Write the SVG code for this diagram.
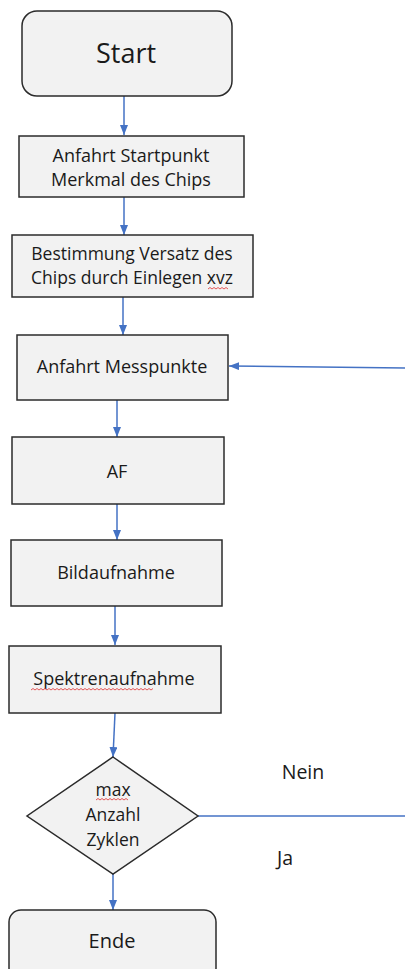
<svg xmlns="http://www.w3.org/2000/svg" width="405" height="969" viewBox="0 0 405 969">
<style>
.box{fill:#f2f2f2;stroke:#2b2b2b;stroke-width:1.5}
.t{font-family:"Open Sans","Liberation Sans",sans-serif;fill:#1a1a1a;text-anchor:middle}
.c{stroke:#4472c4;stroke-width:1.5;fill:none}
.sq{stroke:#e03030;stroke-width:0.8;fill:none}
</style>
<defs>
<marker id="ah" viewBox="0 0 10 8" refX="10" refY="4" markerWidth="10" markerHeight="8" markerUnits="userSpaceOnUse" orient="auto">
<path d="M0,0 L10,4 L0,8 Z" fill="#4472c4"/>
</marker>
</defs>
<rect width="405" height="969" fill="#ffffff"/>
<g id="connectors">
<line class="c" x1="124" y1="96" x2="124" y2="135" marker-end="url(#ah)"/>
<line class="c" x1="124" y1="197" x2="124" y2="235" marker-end="url(#ah)"/>
<line class="c" x1="123" y1="297" x2="123" y2="335" marker-end="url(#ah)"/>
<line class="c" x1="117" y1="400" x2="117" y2="437" marker-end="url(#ah)"/>
<line class="c" x1="117" y1="504" x2="117" y2="540" marker-end="url(#ah)"/>
<line class="c" x1="115" y1="606" x2="115" y2="645" marker-end="url(#ah)"/>
<line class="c" x1="115" y1="713" x2="113" y2="757" marker-end="url(#ah)"/>
<line class="c" x1="113" y1="874" x2="113" y2="910" marker-end="url(#ah)"/>
<line class="c" x1="198" y1="816" x2="405" y2="816"/>
<line class="c" x1="405" y1="368" x2="229" y2="366" marker-end="url(#ah)"/>
</g>
<g id="start">
<rect class="box" x="22" y="11" width="210" height="85" rx="15"/>
<text class="t" x="126" y="63" font-size="27">Start</text>
</g>
<g id="anfahrt-startpunkt">
<rect class="box" x="19" y="136" width="225" height="61"/>
<text class="t" x="131" y="162" font-size="18">Anfahrt Startpunkt</text>
<text class="t" x="131" y="186" font-size="18">Merkmal des Chips</text>
</g>
<g id="bestimmung">
<rect class="box" x="12" y="235" width="241" height="62"/>
<text class="t" x="132" y="260" font-size="17.5">Bestimmung Versatz des</text>
<text class="t" x="132" y="284" font-size="17.5">Chips durch Einlegen xvz</text>
<path class="sq" d="M208,289 l2,-1.5 l2,1.5 l2,-1.5 l2,1.5 l2,-1.5 l2,1.5 l2,-1.5 l2,1.5 l2,-1.5 l2,1.5"/>
</g>
<g id="anfahrt-messpunkte">
<rect class="box" x="17" y="335" width="211" height="65"/>
<text class="t" x="122" y="373" font-size="18">Anfahrt Messpunkte</text>
</g>
<g id="af">
<rect class="box" x="12" y="437" width="212" height="67"/>
<text class="t" x="117" y="478" font-size="18">AF</text>
</g>
<g id="bildaufnahme">
<rect class="box" x="11" y="540" width="211" height="66"/>
<text class="t" x="116" y="579" font-size="18">Bildaufnahme</text>
</g>
<g id="spektrenaufnahme">
<rect class="box" x="9" y="646" width="212" height="67"/>
<text class="t" x="114" y="685" font-size="18">Spektrenaufnahme</text>
<path class="sq" d="M31,690 l2,-1.5 l2,1.5 l2,-1.5 l2,1.5 l2,-1.5 l2,1.5 l2,-1.5 l2,1.5 l2,-1.5 l2,1.5 l2,-1.5 l2,1.5 l2,-1.5 l2,1.5 l2,-1.5 l2,1.5 l2,-1.5 l2,1.5 l2,-1.5 l2,1.5 l2,-1.5 l2,1.5 l2,-1.5 l2,1.5 l2,-1.5 l2,1.5 l2,-1.5 l2,1.5 l2,-1.5 l2,1.5 l2,-1.5 l2,1.5 l2,-1.5 l2,1.5 l2,-1.5 l2,1.5 l2,-1.5 l2,1.5 l2,-1.5 l2,1.5 l2,-1.5 l2,1.5 l2,-1.5 l2,1.5 l2,-1.5 l2,1.5 l2,-1.5 l2,1.5 l2,-1.5 l2,1.5 l2,-1.5 l2,1.5 l2,-1.5 l2,1.5 l2,-1.5 l2,1.5 l2,-1.5 l2,1.5 l2,-1.5 l2,1.5 l2,-1.5"/>
</g>
<g id="max-zyklen">
<polygon class="box" points="113,757 198,816 113,874 27,816"/>
<text class="t" x="113" y="796" font-size="17.5">max</text>
<path class="sq" d="M96,800 l2,-1.5 l2,1.5 l2,-1.5 l2,1.5 l2,-1.5 l2,1.5 l2,-1.5 l2,1.5 l2,-1.5 l2,1.5 l2,-1.5 l2,1.5 l2,-1.5 l2,1.5 l2,-1.5 l2,1.5"/>
<text class="t" x="113" y="821" font-size="17.5">Anzahl</text>
<text class="t" x="113" y="846" font-size="17.5">Zyklen</text>
</g>
<g id="labels">
<text class="t" x="303" y="779" font-size="19.5">Nein</text>
<text class="t" x="285" y="865" font-size="19.5">Ja</text>
</g>
<g id="ende">
<rect class="box" x="9" y="910" width="207" height="70" rx="12"/>
<text class="t" x="112" y="948" font-size="20">Ende</text>
</g>
</svg>
